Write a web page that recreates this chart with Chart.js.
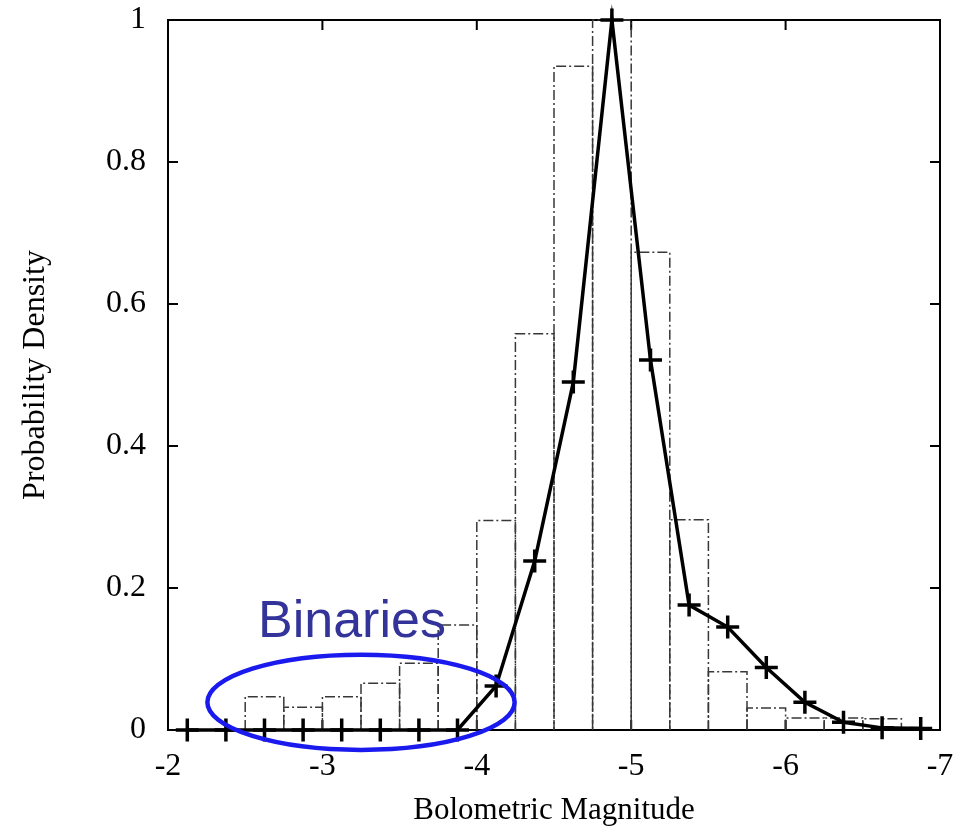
<!DOCTYPE html>
<html>
<head>
<meta charset="utf-8">
<script src="https://cdn.jsdelivr.net/npm/chart.js@4.4.1/dist/chart.umd.min.js"></script>
<style>
  html, body { margin: 0; padding: 0; background: #fff; }
  #wrap { width: 955px; height: 832px; position: relative; }
</style>
</head>
<body>
<div id="wrap"><canvas id="c" width="955" height="832"></canvas></div>
<script>
// Histogram bins (bin centres, width 0.25 mag) and heights
const binCenters = [-2.625, -2.875, -3.125, -3.375, -3.625, -3.875, -4.125, -4.375, -4.625, -4.875,
                    -5.125, -5.375, -5.625, -5.875, -6.125, -6.375, -6.625];
const binHeights = [0.047, 0.032, 0.047, 0.066, 0.094, 0.148, 0.295, 0.558, 0.935, 1.0,
                    0.673, 0.296, 0.082, 0.031, 0.017, 0.017, 0.016];

// Model curve (with + markers)
const curveMag = [-2.125, -2.375, -2.625, -2.875, -3.125, -3.375, -3.625, -3.875, -4.125, -4.375,
                  -4.625, -4.875, -5.125, -5.375, -5.625, -5.875, -6.125, -6.375, -6.625, -6.875];
const curveDensity = [0, 0, 0, 0, 0, 0, 0, 0, 0.062, 0.238,
                      0.490, 1.0, 0.521, 0.176, 0.145, 0.088, 0.039, 0.011, 0.003, 0.002];

// Axis ticks
const xTicks = [-2, -3, -4, -5, -6, -7];
const yTicks = [0, 0.2, 0.4, 0.6, 0.8, 1];

// Annotation
const noteText = 'Binaries';
const notePos = [-2.583, 0.131];          // [mag, density] of text baseline start
const ellipseCenter = [-3.25, 0.039];     // [mag, density]
const ellipseHalf = [0.995, 0.067];       // half extents in data units

const serif = '"Liberation Serif", "Times New Roman", serif';

const histOutline = {
  id: 'histOutline',
  afterDatasetDraw(chart, args) {
    if (args.index !== 0) return;
    const ctx = chart.ctx;
    ctx.save();
    ctx.strokeStyle = '#383838';
    ctx.lineWidth = 1.5;
    ctx.setLineDash([10, 3, 2, 3]);
    args.meta.data.forEach(el => {
      const p = el.getProps(['x', 'y', 'base', 'width'], true);
      const l = p.x - p.width / 2, r = p.x + p.width / 2;
      ctx.beginPath();
      ctx.moveTo(l, p.base);
      ctx.lineTo(l, p.y);
      ctx.lineTo(r, p.y);
      ctx.lineTo(r, p.base);
      ctx.stroke();
    });
    ctx.restore();
  }
};

const frameAndTicks = {
  id: 'frameAndTicks',
  beforeDatasetsDraw(chart) {
    const {ctx, chartArea: a, scales: {x, y}} = chart;
    ctx.save();
    ctx.strokeStyle = '#000';
    ctx.lineWidth = 2;
    ctx.beginPath();
    const L = 10;
    x.ticks.forEach(t => {
      const px = x.getPixelForValue(t.value);
      ctx.moveTo(px, a.bottom); ctx.lineTo(px, a.bottom - L);
      ctx.moveTo(px, a.top); ctx.lineTo(px, a.top + L);
    });
    y.ticks.forEach(t => {
      const py = y.getPixelForValue(t.value);
      ctx.moveTo(a.left, py); ctx.lineTo(a.left + L, py);
      ctx.moveTo(a.right, py); ctx.lineTo(a.right - L, py);
    });
    ctx.stroke();
    ctx.strokeRect(a.left, a.top, a.right - a.left, a.bottom - a.top);
    ctx.restore();
  },
  afterDraw(chart) {
    const {ctx, scales: {x, y}} = chart;
    ctx.save();
    const cx = x.getPixelForValue(ellipseCenter[0]);
    const cy = y.getPixelForValue(ellipseCenter[1]);
    const rx = Math.abs(x.getPixelForValue(ellipseCenter[0] - ellipseHalf[0]) - cx);
    const ry = Math.abs(y.getPixelForValue(ellipseCenter[1] + ellipseHalf[1]) - cy);
    ctx.strokeStyle = '#1a1aee';
    ctx.lineWidth = 4.5;
    ctx.beginPath();
    ctx.ellipse(cx, cy, rx, ry, 0, 0, Math.PI * 2);
    ctx.stroke();
    ctx.fillStyle = '#333399';
    ctx.font = '52px "Liberation Sans", Arial, sans-serif';
    ctx.textAlign = 'left';
    ctx.textBaseline = 'alphabetic';
    ctx.fillText(noteText, x.getPixelForValue(notePos[0]), y.getPixelForValue(notePos[1]));
    ctx.restore();
  }
};

new Chart(document.getElementById('c'), {
  data: {
    datasets: [
      {
        type: 'bar',
        data: binCenters.map((m, i) => ({x: m, y: binHeights[i]})),
        backgroundColor: 'rgba(0,0,0,0)',
        borderWidth: 0,
        barPercentage: 1,
        categoryPercentage: 1,
        order: 1
      },
      {
        type: 'line',
        data: curveMag.map((m, i) => ({x: m, y: curveDensity[i]})),
        borderColor: '#000',
        borderWidth: 3.5,
        tension: 0,
        pointStyle: 'cross',
        pointRadius: 11.5,
        pointBorderWidth: 3.5,
        pointBorderColor: '#000',
        pointBackgroundColor: '#000',
        clip: false,
        order: 0
      }
    ]
  },
  options: {
    responsive: false,
    animation: false,
    layout: { padding: { left: 0, right: 15, top: 20, bottom: 0 } },
    plugins: { legend: { display: false }, tooltip: { enabled: false } },
    scales: {
      x: {
        type: 'linear',
        reverse: true,
        offset: false,
        min: -7, max: -2,
        afterFit: s => { s.height = 102; s.paddingLeft = 0; s.paddingRight = 0; },
        afterBuildTicks: s => { s.ticks = xTicks.map(v => ({value: v})); },
        grid: { display: false, drawTicks: false, offset: false },
        border: { display: false },
        ticks: { color: '#000', padding: 17, font: { family: serif, size: 32 }, maxRotation: 0,
                 callback: v => String(v) },
        title: { display: true, text: 'Bolometric Magnitude', color: '#000',
                 font: { family: serif, size: 31 }, padding: { top: 0, bottom: 3 } }
      },
      y: {
        type: 'linear',
        min: 0, max: 1,
        afterFit: s => { s.width = 168; s.paddingTop = 0; s.paddingBottom = 0; },
        afterBuildTicks: s => { s.ticks = yTicks.map(v => ({value: v})); },
        grid: { display: false, drawTicks: false },
        border: { display: false },
        ticks: { color: '#000', padding: 22, font: { family: serif, size: 32 },
                 callback: v => String(v) },
        title: { display: true, text: 'Probability Density', color: '#000',
                 font: { family: serif, size: 32 }, padding: { top: 16, bottom: 0 } }
      }
    }
  },
  plugins: [histOutline, frameAndTicks]
});
</script>
</body>
</html>
